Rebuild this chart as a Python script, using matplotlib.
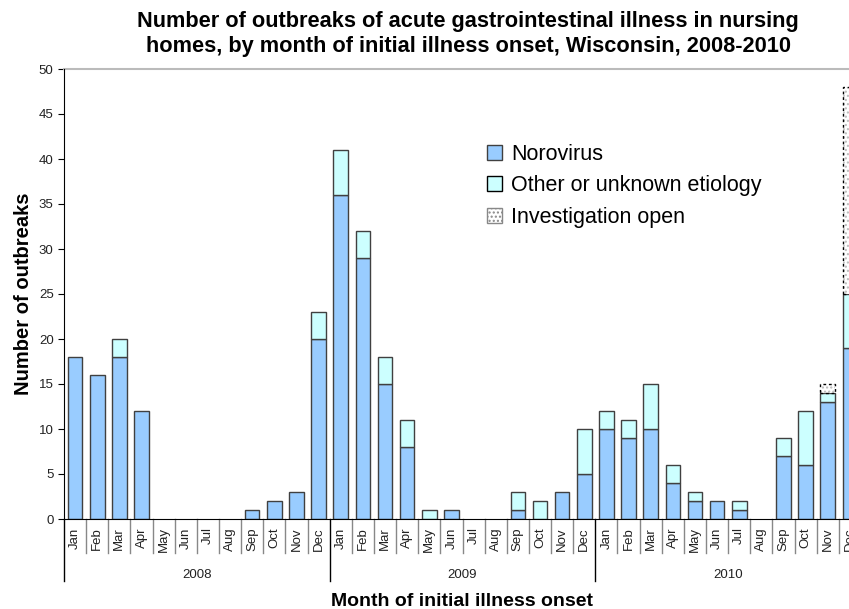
import matplotlib.pyplot as plt
from matplotlib.patches import Patch
import numpy as np

plt.rcParams['font.family'] = ['Liberation Sans', 'DejaVu Sans']

months = ["Jan", "Feb", "Mar", "Apr", "May", "Jun",
          "Jul", "Aug", "Sep", "Oct", "Nov", "Dec"]
years = ["2008", "2009", "2010"]

norovirus = [18, 16, 18, 12, 0, 0, 0, 0, 1, 2, 3, 20,
             36, 29, 15, 8, 0, 1, 0, 0, 1, 0, 3, 5,
             10, 9, 10, 4, 2, 2, 1, 0, 7, 6, 13, 19]
other = [0, 0, 2, 0, 0, 0, 0, 0, 0, 0, 0, 3,
         5, 3, 3, 3, 1, 0, 0, 0, 2, 2, 0, 5,
         2, 2, 5, 2, 1, 0, 1, 0, 2, 6, 1, 6]
open_inv = [0] * 34 + [1, 23]

noro_col = "#99CCFF"
other_col = "#CCFFFF"
edge_col = "#404040"

fig = plt.figure(figsize=(8.49, 6.09), dpi=100)
# right edge runs past the figure, like the original where Dec 2010 is cut off
ax = fig.add_axes([64 / 849, 90 / 609, 797 / 849, 450 / 609])

x = np.arange(len(norovirus))
noro = np.array(norovirus)
oth = np.array(other)
opn = np.array(open_inv)
w = 0.66

m = noro > 0
ax.bar(x[m], noro[m], width=w, color=noro_col, edgecolor=edge_col, linewidth=1)
m = oth > 0
ax.bar(x[m], oth[m], width=w, bottom=noro[m], color=other_col,
       edgecolor=edge_col, linewidth=1)
m = opn > 0
ax.bar(x[m], opn[m], width=w, bottom=(noro + oth)[m], color="white",
       edgecolor="#BBBBBB", hatch="....", linewidth=0)
ax.bar(x[m], opn[m], width=w, bottom=(noro + oth)[m], fill=False,
       edgecolor="black", linestyle=(0, (2, 2)), linewidth=1)

ax.set_xlim(-0.5, len(x) - 0.5)
ax.set_ylim(0, 50)
ax.set_yticks(range(0, 51, 5))
ax.tick_params(axis="y", direction="out", length=4, labelsize=9.5, labelcolor="#222222")
ax.axhline(50, color="#BBBBBB", linewidth=1.5, clip_on=False)

for s in ["top", "right"]:
    ax.spines[s].set_visible(False)

# month labels and separators
ax.set_xticks(x)
ax.set_xticklabels(months * 3, rotation=90, fontsize=9.5, color="#222222")
ax.tick_params(axis="x", length=0, pad=6)
trans = ax.get_xaxis_transform()
for i in range(len(x) + 1):
    yb = -0.138 if i % 12 == 0 else -0.076
    c = "black" if i % 12 == 0 else "#888888"
    ax.plot([i - 0.5, i - 0.5], [0, yb], color=c, linewidth=1,
            transform=trans, clip_on=False)
for k, yr in enumerate(years):
    ax.text(k * 12 + 5.5, -0.125, yr, transform=trans, ha="center", va="center",
            fontsize=9.5, color="#222222")

ax.set_ylabel("Number of outbreaks", fontsize=14.5, fontweight="bold", labelpad=4)
fig.text(462 / 849, 1 - 601 / 609, "Month of initial illness onset", ha="center",
         va="center", fontsize=14, fontweight="bold")
fig.text(468 / 849, 1 - 34 / 609,
         "Number of outbreaks of acute gastrointestinal illness in nursing\n"
         "homes, by month of initial illness onset, Wisconsin, 2008-2010",
         ha="center", va="center", fontsize=15.7, fontweight="bold", linespacing=1.2)

handles = [
    Patch(facecolor=noro_col, edgecolor=edge_col, linewidth=1),
    Patch(facecolor=other_col, edgecolor="black", linewidth=1),
    Patch(facecolor="white", edgecolor="#888888", hatch="....", linewidth=1),
]
labels = ["Norovirus", "Other or unknown etiology", "Investigation open"]
ax.legend(handles, labels, loc="upper left", bbox_to_anchor=(414 / 797, 1 - 66 / 450),
          frameon=False, fontsize=15.5, handlelength=0.7, handleheight=0.7,
          handletextpad=0.45, labelspacing=0.5, borderaxespad=0)

fig.savefig("out.png", dpi=100)
